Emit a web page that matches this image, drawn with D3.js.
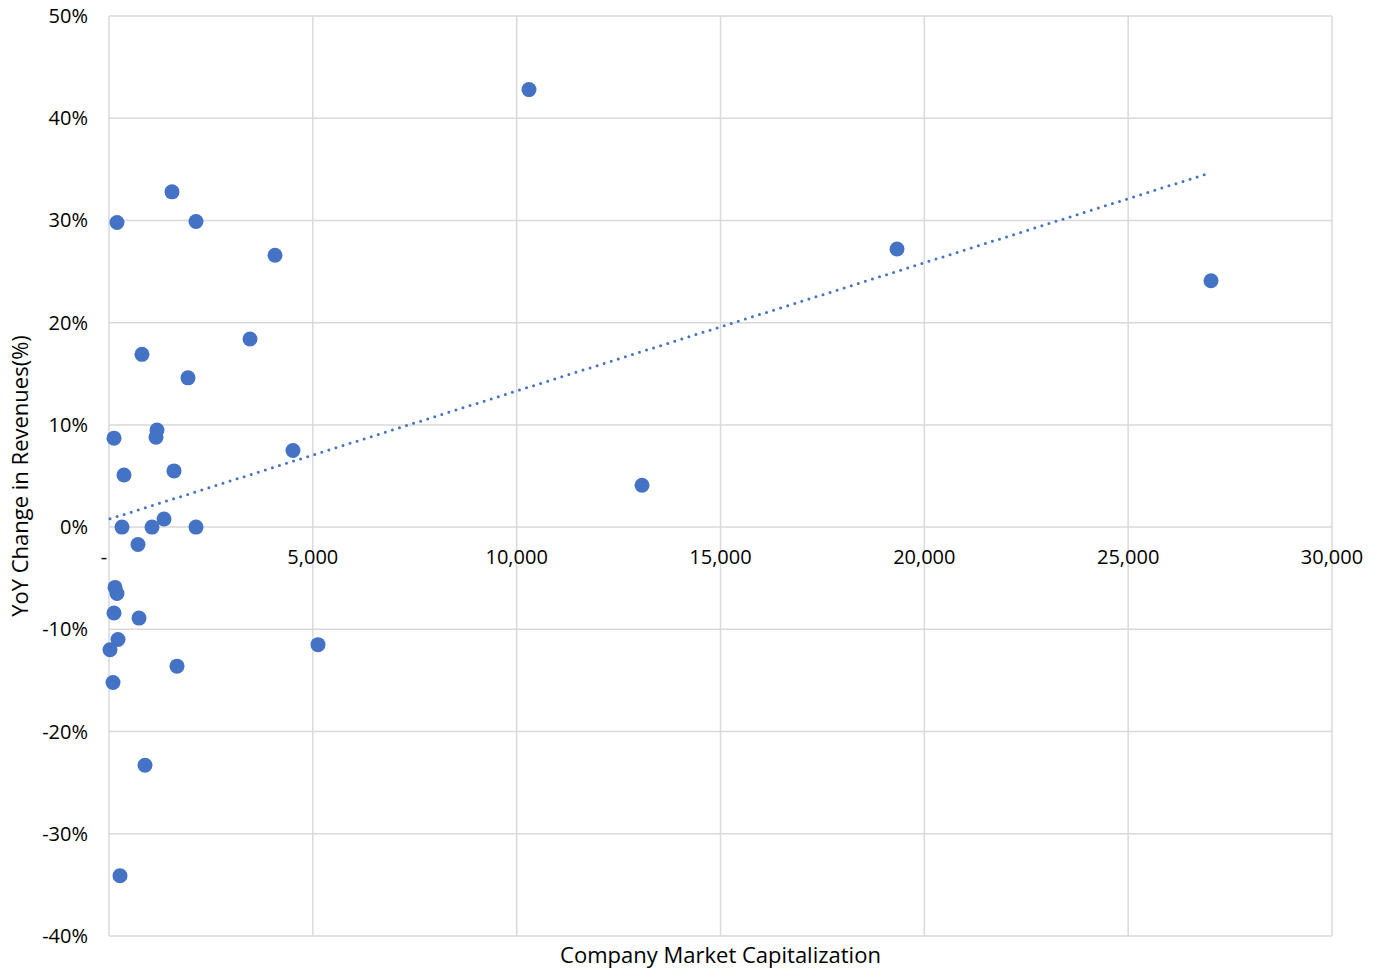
<!DOCTYPE html>
<html><head><meta charset="utf-8">
<script src="https://cdn.jsdelivr.net/npm/d3@7"></script>
<style>body{margin:0;background:#fff;} text{font-family:"Open Sans",sans-serif;fill:#000;}</style>
</head><body>
<svg id="c" width="1378" height="969"></svg>
<script>
const marketCap = [10302,1545,196,2134,4072,19330,27032,3459,809,1938,1177,1153,123,4513,1594,368,13075,1349,319,1055,2134,711,147,196,123,736,5127,221,25,1668,98,883,270];
const yoyChange = [42.8,32.8,29.8,29.9,26.6,27.2,24.1,18.4,16.9,14.6,9.5,8.8,8.7,7.5,5.5,5.1,4.1,0.8,0,0,0,-1.7,-5.9,-6.5,-8.4,-8.9,-11.5,-11.0,-12.0,-13.6,-15.2,-23.3,-34.1];
const xTicks = [0,5000,10000,15000,20000,25000,30000];
const yTicks = [-40,-30,-20,-10,0,10,20,30,40,50];
const xTitle = "Company Market Capitalization";
const yTitle = "YoY Change in Revenues(%)";

const svg = d3.select("#c");
const L=109, R=1332, T=16, B=936;
const x = d3.scaleLinear().domain([0,30000]).range([L,R]);
const y = d3.scaleLinear().domain([-40,50]).range([B,T]);
const grid="#d9d9d9";

// gridlines
svg.append("g").selectAll("line").data(yTicks).join("line")
  .attr("x1",L).attr("x2",R).attr("y1",d=>y(d)).attr("y2",d=>y(d))
  .attr("stroke",grid).attr("stroke-width",1.5);
svg.append("g").selectAll("line").data(xTicks).join("line")
  .attr("x1",d=>x(d)).attr("x2",d=>x(d)).attr("y1",T).attr("y2",B)
  .attr("stroke",grid).attr("stroke-width",1.5);

// y labels
svg.append("g").selectAll("text").data(yTicks).join("text")
  .attr("x",88).attr("y",d=>y(d)).attr("dy","0.35em").attr("text-anchor","end")
  .attr("font-size",20).text(d=>d+"%");
// x labels
svg.append("g").selectAll("text").data(xTicks).join("text")
  .attr("x",d=>d===0?x(d)-5:x(d)).attr("y",y(0)+30).attr("dy","0.35em").attr("text-anchor","middle")
  .attr("font-size",20).text(d=>d===0?"-":d3.format(",")(d));

// trendline (least squares)
const n=marketCap.length;
const mx=d3.mean(marketCap), my=d3.mean(yoyChange);
let sxy=0,sxx=0;
for(let i=0;i<n;i++){sxy+=(marketCap[i]-mx)*(yoyChange[i]-my);sxx+=(marketCap[i]-mx)**2;}
const slope=sxy/sxx, icpt=my-slope*mx;
const x0=d3.min(marketCap), x1=d3.max(marketCap);
svg.append("line").attr("x1",x(x0)).attr("y1",y(icpt+slope*x0)).attr("x2",x(x1)).attr("y2",y(icpt+slope*x1))
  .attr("stroke","#4472c4").attr("stroke-width",3).attr("stroke-linecap","round").attr("stroke-dasharray","0,7.4");

// points
svg.append("g").selectAll("circle").data(marketCap.map((v,i)=>[v,yoyChange[i]])).join("circle")
  .attr("cx",d=>x(d[0])).attr("cy",d=>y(d[1])).attr("r",7.5).attr("fill","#4472c4");

// titles
svg.append("text").attr("x",(L+R)/2).attr("y",955).attr("dy","0.35em").attr("text-anchor","middle").attr("font-size",22).text(xTitle);
svg.append("text").attr("transform",`translate(20,${(T+B)/2}) rotate(-90)`).attr("dy","0.35em").attr("text-anchor","middle").attr("font-size",22).text(yTitle);
</script>
</body></html>
